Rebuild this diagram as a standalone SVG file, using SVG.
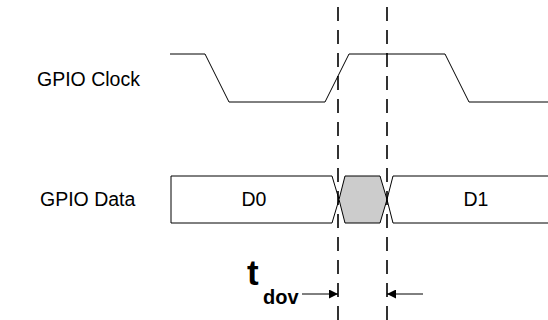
<svg xmlns="http://www.w3.org/2000/svg" width="548" height="320" viewBox="0 0 548 320">
<style>
.sig{fill:none;stroke:#000;stroke-width:1}
.box{fill:#fff;stroke:#000;stroke-width:1}
.dash{fill:none;stroke:#000;stroke-width:1.6;stroke-dasharray:14 9}
.lbl{font-family:"Liberation Sans",Arial,sans-serif;font-size:19.5px;fill:#000}
.b{font-family:"Liberation Sans",Arial,sans-serif;font-weight:bold;fill:#000}
</style>
<defs>
<marker id="ah" viewBox="0 0 10 10" refX="10" refY="5" markerWidth="9" markerHeight="9" markerUnits="userSpaceOnUse" orient="auto">
<path d="M0,0 L10,5 L0,10 z" fill="#000"/>
</marker>
</defs>
<g id="label-clock"><text class="lbl" x="37" y="86">GPIO Clock</text></g>
<g id="label-data"><text class="lbl" x="40" y="206">GPIO Data</text></g>
<g id="clock">
<polyline class="sig" points="170,54 205,54 229,102 325,102 349,54 445,54 469,102 548,102"/>
</g>
<g id="d0">
<polyline class="box" points="171,176 332,176 339,199.5 332,223 171,223 171,176"/>
<text class="lbl" x="254" y="206" text-anchor="middle">D0</text>
</g>
<g id="invalid">
<polygon points="345,176 380,176 387,199.5 380,223 345,223 339,199.5" fill="#cccccc" stroke="#000" stroke-width="1"/>
</g>
<g id="d1">
<polyline class="box" points="548,176 393,176 387,199.5 393,223 548,223"/>
<text class="lbl" x="476" y="206" text-anchor="middle">D1</text>
</g>
<g id="connectors">
<line class="dash" x1="338" y1="7" x2="338" y2="320"/>
<line class="dash" x1="387" y1="7" x2="387" y2="320"/>
<line x1="302" y1="294" x2="338" y2="294" stroke="#000" stroke-width="1" marker-end="url(#ah)"/>
<line x1="423" y1="294" x2="387" y2="294" stroke="#000" stroke-width="1" marker-end="url(#ah)"/>
</g>
<g id="tdov">
<text class="b" x="247" y="285" font-size="35">t</text>
<text class="b" x="263" y="304" font-size="20">dov</text>
</g>
</svg>
